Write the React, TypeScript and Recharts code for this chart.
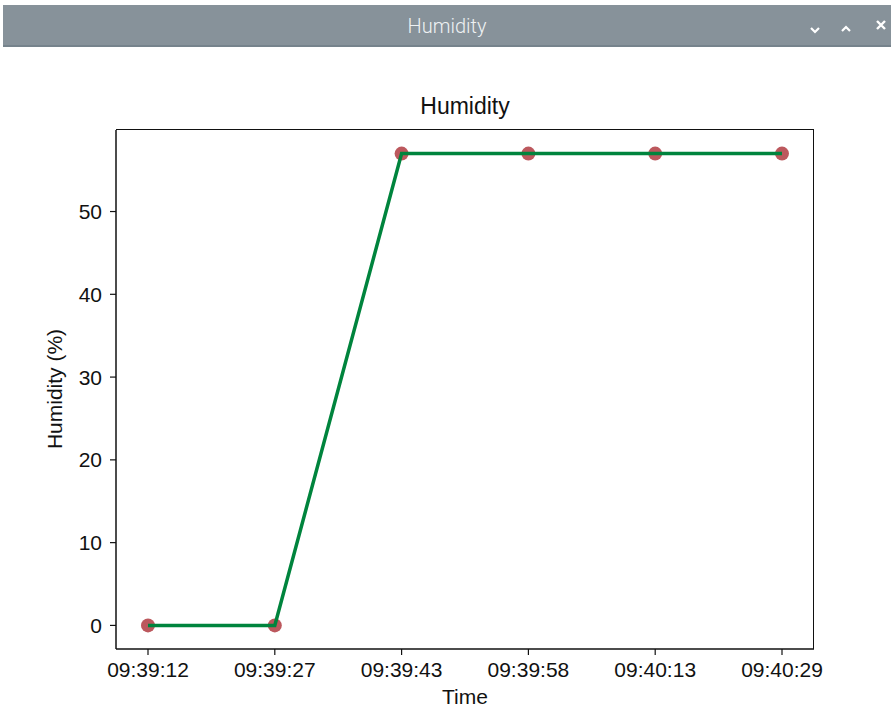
import { ComposedChart, Line, Scatter, XAxis, YAxis } from 'recharts'

const times = ['09:39:12', '09:39:27', '09:39:43', '09:39:58', '09:40:13', '09:40:29']
const humidity = [0, 0, 57, 57, 57, 57]
const yTicks = [0, 10, 20, 30, 40, 50]

const data = times.map((t, i) => ({ time: t, humidity: humidity[i] }))

const font = '"Liberation Sans", Arial, sans-serif'
const tick = { fontSize: 21, fill: '#111', fontFamily: font }

function Chevron({ up }: { up?: boolean }) {
  return (
    <svg width="12" height="10" viewBox="0 0 12 10">
      <path d={up ? 'M2 7 L6 3 L10 7' : 'M2 3 L6 7 L10 3'} stroke="#fff" strokeWidth="2.2" fill="none" />
    </svg>
  )
}

export default function App() {
  return (
    <div style={{ position: 'absolute', left: 0, top: 0, width: 891, height: 707, background: '#fff', overflow: 'hidden' }}>
      {/* window title bar */}
      <div
        style={{
          position: 'absolute', left: 3, top: 5, width: 888, height: 42,
          background: '#87929a', borderBottom: '2px solid #76838c', boxSizing: 'border-box',
        }}
      >
        <div style={{ position: 'absolute', left: 0, right: 0, top: 9, textAlign: 'center', color: '#eef1f3', fontFamily: 'Roboto, "DejaVu Sans", sans-serif', fontSize: 20, fontWeight: 300 }}>
          Humidity
        </div>
        <div style={{ position: 'absolute', left: 806, top: 16 }}><Chevron /></div>
        <div style={{ position: 'absolute', left: 837, top: 15 }}><Chevron up /></div>
        <svg style={{ position: 'absolute', left: 872, top: 14 }} width="12" height="12" viewBox="0 0 12 12">
          <path d="M2 2 L10 10 M10 2 L2 10" stroke="#fff" strokeWidth="2.4" />
        </svg>
      </div>

      <div style={{ position: 'absolute', left: 116, width: 698, top: 93, textAlign: 'center', fontFamily: font, fontSize: 23, color: '#111' }}>
        Humidity
      </div>
      <div style={{ position: 'absolute', left: 116, width: 698, top: 685, textAlign: 'center', fontFamily: font, fontSize: 21, color: '#111' }}>
        Time
      </div>
      <div
        style={{
          position: 'absolute', left: 55, top: 389, width: 300, textAlign: 'center',
          transform: 'translate(-50%, -50%) rotate(-90deg)', fontFamily: font, fontSize: 21, color: '#111',
        }}
      >
        Humidity (%)
      </div>

      <ComposedChart width={891} height={707} data={data} margin={{ top: 130, right: 77, bottom: 28, left: 56 }}>
        <XAxis
          dataKey="time"
          padding={{ left: 32, right: 32 }}
          tick={tick}
          tickSize={6}
          tickMargin={7}
          height={30}
          axisLine={{ stroke: '#111', strokeWidth: 1.5 }}
          tickLine={{ stroke: '#111', strokeWidth: 1.2 }}
          interval={0}
        />
        <YAxis
          domain={[-2.85, 59.85]}
          ticks={yTicks}
          allowDataOverflow
          width={60}
          tick={tick}
          tickSize={6}
          tickMargin={8}
          axisLine={{ stroke: '#111', strokeWidth: 1.5 }}
          tickLine={{ stroke: '#111', strokeWidth: 1.2 }}
        />
        <Scatter
          dataKey="humidity"
          zIndex={300}
          fill="#b5464b"
          shape={(p: any) => <circle cx={p.cx} cy={p.cy} r={7} fill="#b5464b" fillOpacity={0.9} />}
          isAnimationActive={false}
        />
        <Line
          dataKey="humidity"
          zIndex={700}
          stroke="#00843d"
          strokeWidth={3.5}
          dot={false}
          activeDot={false}
          isAnimationActive={false}
        />
      </ComposedChart>

      {/* top and right spines of the plot frame */}
      <div style={{ position: 'absolute', left: 116, top: 129, width: 698, height: 520, borderTop: '1.5px solid #111', borderRight: '1.5px solid #111', boxSizing: 'border-box', pointerEvents: 'none' }} />
    </div>
  )
}
